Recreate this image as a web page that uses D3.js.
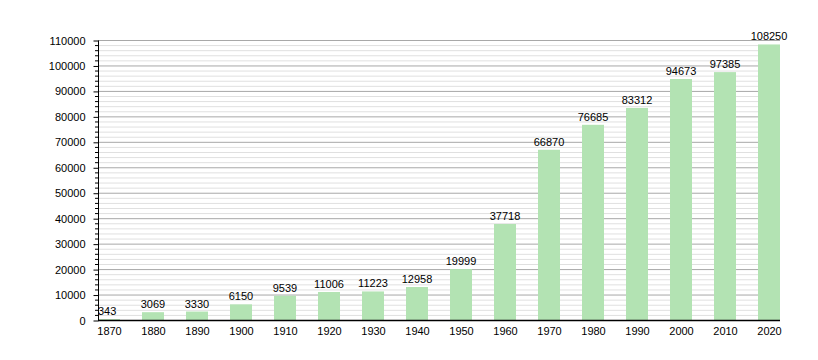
<!DOCTYPE html>
<html><head><meta charset="utf-8">
<script src="https://cdn.jsdelivr.net/npm/d3@7"></script>
<style>body{margin:0;background:#fff}svg text{font-family:"Liberation Sans",Arial,sans-serif;font-size:11px;fill:#000}</style>
</head><body><svg id="c" width="818" height="360"></svg>
<script>
const years = [1870,1880,1890,1900,1910,1920,1930,1940,1950,1960,1970,1980,1990,2000,2010,2020];
const population = [343,3069,3330,6150,9539,11006,11223,12958,19999,37718,66870,76685,83312,94673,97385,108250];
const yTicks = [0,10000,20000,30000,40000,50000,60000,70000,80000,90000,100000,110000];

(function(){
const svg = d3.select("#c");
const mLeft = 98, mRight = 780, mTop = 40, mBottom = 320, bw = 22;
const y = d3.scaleLinear().domain([0,110000]).range([mBottom, mTop]);
const x = d3.scalePoint().domain(years).range([mLeft + bw/2, mRight - bw/2]);

const minor = d3.range(0, 110001, 2000).filter(v => v % 10000 !== 0);
svg.append("g").selectAll("line").data(minor).join("line")
  .attr("x1", mLeft).attr("x2", mRight).attr("y1", d => y(d)+0.5).attr("y2", d => y(d)+0.5)
  .attr("stroke", "#e0e0e0").attr("stroke-width", 1);
svg.append("g").selectAll("line").data(yTicks.slice(1)).join("line")
  .attr("x1", mLeft).attr("x2", mRight).attr("y1", d => y(d)+0.5).attr("y2", d => y(d)+0.5)
  .attr("stroke", "#a8a8a8").attr("stroke-width", 1);

svg.append("g").selectAll("rect").data(years).join("rect")
  .attr("x", d => x(d) - bw/2).attr("width", bw)
  .attr("y", (d,i) => y(population[i])).attr("height", (d,i) => mBottom - y(population[i]))
  .attr("fill", "#b3e3b3");

svg.append("g").selectAll("text").data(years).join("text")
  .attr("x", (d,i) => i === 0 ? x(d) - bw/2 : x(d)).attr("text-anchor", (d,i) => i === 0 ? "start" : "middle")
  .attr("y", (d,i) => y(population[i]) - 4)
  .text((d,i) => population[i]);

svg.append("g").selectAll("line").data(minor).join("line")
  .attr("x1", mLeft-3).attr("x2", mLeft).attr("y1", d => y(d)+0.5).attr("y2", d => y(d)+0.5).attr("stroke", "#000");
const ya = d3.axisLeft(y).tickValues(yTicks).tickSize(5).tickPadding(8).tickFormat(d3.format("d"));
const yg = svg.append("g").attr("transform", `translate(${mLeft+0.5},0.5)`).call(ya);
yg.select(".domain").attr("d", `M0,${mTop}V${mBottom}`).attr("stroke","#000");
yg.selectAll("text").style("font-family","Liberation Sans, Arial, sans-serif").style("font-size","11px");

const xa = d3.axisBottom(x).tickSize(0).tickPadding(7);
const xg = svg.append("g").attr("transform", `translate(0,${mBottom+0.5})`).call(xa);
xg.select(".domain").attr("d", `M${mLeft},0H${mRight}`).attr("stroke","#000").attr("stroke-width",1.5);
xg.selectAll("text").style("font-family","Liberation Sans, Arial, sans-serif").style("font-size","11px");
})();
</script></body></html>
